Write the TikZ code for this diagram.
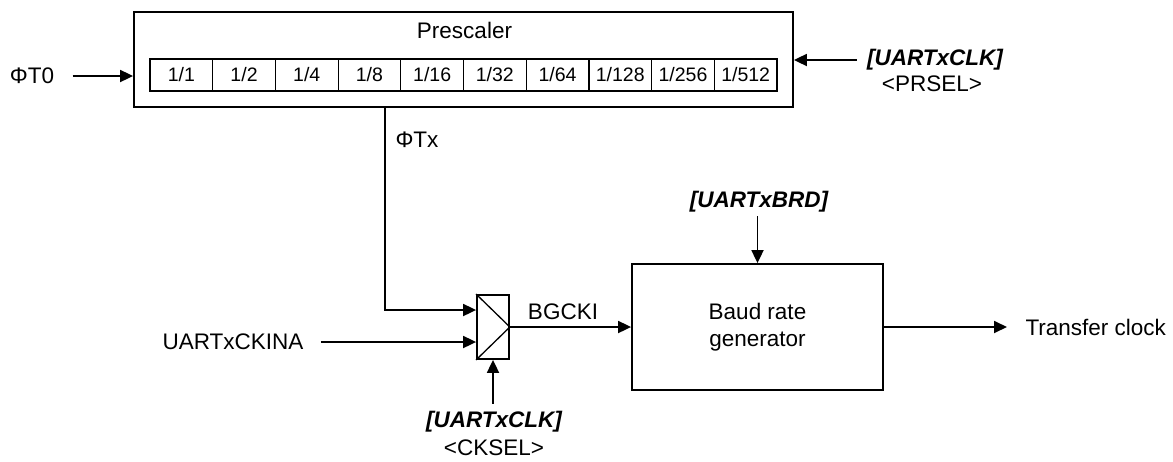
\documentclass[tikz,border=0pt]{standalone}
\usepackage{fontspec}
\setmainfont{Liberation Sans}
\usetikzlibrary{arrows.meta,calc}

\begin{document}
\begin{tikzpicture}[x=1pt,y=-1pt,>={Triangle[length=13pt,width=12pt]},
  every node/.style={font=\fontsize{22.5}{27}\selectfont},
  blk/.style={draw, line width=1.8pt, inner sep=0pt},
  cell/.style={draw, line width=1.2pt, minimum width=62.7pt, minimum height=32pt, inner sep=0pt,
    font=\fontsize{19.5}{23}\selectfont},
  reg/.style={font=\fontsize{22.5}{27}\selectfont\bfseries\itshape},
  sig/.style={->, line width=1.8pt}]
  \useasboundingbox (0,0) rectangle (1173,461);
  % ---- prescaler ----
  \node[blk, minimum width=659pt, minimum height=95pt] (presc) at (463.5,59.5) {};
  \node (ptitle) at (464.5,30) {Prescaler};
  \foreach \d [count=\i] in {1,2,4,8,16,32,64,128,256,512}
    \node[cell] (c\i) at ({150+62.7*(\i-0.5)},75) {1/\d};
  \node (phi0) at (32,76) {ΦT0};
  \draw[sig] ([xshift=15pt]phi0.east) -- (phi0.east -| presc.west);
  \node[reg] (clk1) at (935,60) {[UARTxCLK]};
  \node (prsel) at (932,84) {<PRSEL>};
  \draw[sig] ([xshift=-7pt]clk1.west) -- (clk1.west -| presc.east);
  % ---- selector ----
  \node[blk, minimum width=32pt, minimum height=64pt] (mux) at (493,327) {};
  \draw[line width=1.3pt] (mux.north west) -- (mux.east) -- (mux.south west);
  \coordinate (tx) at (385,0);
  \coordinate (in1) at ($(mux.west)+(0,-17)$);
  \coordinate (in2) at ($(mux.west)+(0,15)$);
  \draw[sig] (presc.south -| tx) |- (in1);
  \node[anchor=west] (phitx) at (392,140) {ΦTx};
  \node (ckin) at (233,342) {UARTxCKINA};
  \draw[sig] ([xshift=14pt]ckin.east) -- (in2);
  \node[reg] (clk2) at (494,422) {[UARTxCLK]};
  \node[inner sep=1pt] (cksel) at (494,448) {<CKSEL>};
  \draw[sig] ([yshift=4pt]clk2.north -| mux.south) -- (mux.south);
  % ---- baud rate generator ----
  \node[blk, minimum width=251pt, minimum height=126pt, align=center] (brg) at (757.5,327) {Baud rate\\generator};
  \draw[sig] (mux.east) -- (mux.east -| brg.west);
  \node (bgcki) at (563,312) {BGCKI};
  \node[reg] (brd) at (759,202) {[UARTxBRD]};
  \draw[sig] (brg.north |- brd.south) -- (brg.north);
  \node[anchor=west] (xfer) at (1022,327) {Transfer clock};
  \draw[sig] (brg.east) -- ([xshift=-15pt]xfer.west);
\end{tikzpicture}
\end{document}
